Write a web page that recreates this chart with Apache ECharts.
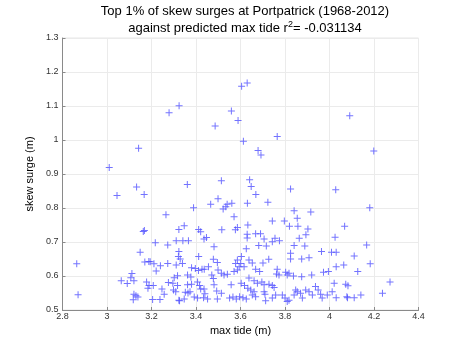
<!DOCTYPE html>
<html>
<head>
<meta charset="utf-8">
<script src="https://cdn.jsdelivr.net/npm/echarts@6/dist/echarts.min.js"></script>
<style>html,body{margin:0;padding:0;background:#fff}#c{width:465px;height:350px}</style>
</head>
<body>
<div id="c"></div>
<script>
const titleLine1 = 'Top 1% of skew surges at Portpatrick (1968-2012)';
const titleLine2 = 'against predicted max tide r';
const r2Text = '-0.031134';
const xTicks = [2.8, 3, 3.2, 3.4, 3.6, 3.8, 4, 4.2, 4.4];
const yTicks = [0.5, 0.6, 0.7, 0.8, 0.9, 1.0, 1.1, 1.2, 1.3];

// max tide (m)
const maxTide = [
 3.605,3.630,3.279,3.324,3.559,3.589,3.486,4.091,3.613,3.765,3.679,3.692,4.199,3.142,3.010,3.361,3.514,3.641,3.648,3.669,3.825,4.028,3.133,3.045,3.167,
 3.265,3.163,3.168,3.217,3.273,3.149,2.864,3.170,3.188,3.194,3.211,3.240,3.221,3.273,3.112,3.107,3.064,3.091,3.121,3.178,3.184,3.189,3.208,3.247,3.276,3.257,2.870,3.121,3.130,3.139,3.118,3.205,3.238,
 3.499,3.466,3.389,3.522,3.534,3.540,3.561,3.631,3.571,3.323,3.347,3.412,3.421,3.516,3.577,3.586,3.630,3.630,3.311,3.341,3.366,3.436,3.447,3.481,3.626,3.323,3.321,3.329,3.412,3.311,3.339,3.478,3.496,
 3.586,3.604,3.578,3.601,3.616,3.594,3.380,3.397,3.411,3.427,3.437,3.456,3.499,3.514,3.526,3.541,3.571,3.586,3.317,3.302,3.362,3.377,3.471,3.478,3.296,3.317,3.299,3.309,
 3.362,3.380,3.407,3.416,3.421,3.436,3.440,3.481,3.493,3.514,3.558,3.603,3.618,3.633,3.352,3.364,3.373,3.323,3.347,3.326,3.392,3.407,3.434,3.452,3.496,3.551,3.566,3.581,3.596,3.611,3.626,3.633,3.682,
 3.723,3.841,3.916,3.855,3.743,3.797,3.820,3.858,3.903,3.668,3.690,3.706,3.743,3.716,3.755,3.775,3.864,3.894,3.841,3.889,4.025,3.964,4.009,4.030,3.825,3.825,3.875,3.908,3.638,3.653,3.701,3.727,3.668,3.686,
 3.765,3.762,3.773,3.803,3.818,3.810,3.838,3.875,3.920,3.973,3.995,
 3.638,3.661,3.676,3.696,3.706,3.728,3.743,3.751,3.646,3.661,3.653,3.668,3.706,3.710,3.713,3.743,3.758,3.788,3.800,3.810,3.818,3.841,3.848,3.855,3.870,3.878,3.893,3.908,3.923,3.937,3.949,3.960,3.967,3.990,4.012,
 4.181,4.068,4.167,4.111,4.030,4.064,4.183,4.127,4.272,4.021,4.073,4.083,4.238,4.030,4.078,4.081,4.111,4.141
];
// skew surge (m)
const skewSurge = [
 1.158,1.168,1.080,1.101,1.085,1.057,1.041,1.071,0.996,1.010,0.969,0.956,0.968,0.976,0.919,0.869,0.880,0.883,0.863,0.840,0.856,0.854,0.862,0.837,0.840,
 0.780,0.731,0.734,0.698,0.691,0.670,0.636,0.641,0.643,0.642,0.636,0.630,0.615,0.637,0.607,0.595,0.586,0.578,0.586,0.582,0.564,0.572,0.572,0.562,0.581,0.546,0.545,0.546,0.542,0.538,0.530,0.531,0.531,
 0.827,0.811,0.801,0.797,0.804,0.811,0.814,0.814,0.774,0.737,0.748,0.737,0.730,0.736,0.736,0.743,0.723,0.712,0.704,0.704,0.704,0.709,0.713,0.686,0.680,0.672,0.657,0.650,0.657,0.632,0.637,0.649,0.640,
 0.647,0.657,0.637,0.637,0.627,0.627,0.624,0.622,0.616,0.620,0.620,0.627,0.618,0.608,0.603,0.605,0.613,0.618,0.601,0.595,0.603,0.597,0.603,0.593,0.579,0.572,0.559,0.554,
 0.574,0.576,0.582,0.572,0.562,0.562,0.548,0.574,0.556,0.549,0.574,0.579,0.572,0.564,0.552,0.550,0.554,0.529,0.532,0.527,0.538,0.535,0.536,0.532,0.532,0.535,0.538,0.532,0.539,0.536,0.532,0.750,0.690,
 0.817,0.792,0.788,0.770,0.762,0.762,0.746,0.746,0.738,0.724,0.724,0.709,0.701,0.688,0.711,0.704,0.711,0.721,0.690,0.688,0.714,0.672,0.670,0.670,0.667,0.650,0.650,0.654,0.647,0.638,0.638,0.649,0.620,0.613,
 0.620,0.606,0.603,0.611,0.608,0.603,0.600,0.598,0.603,0.611,0.613,
 0.594,0.586,0.579,0.582,0.574,0.576,0.572,0.566,0.559,0.554,0.544,0.539,0.554,0.546,0.527,0.535,0.544,0.544,0.535,0.525,0.529,0.544,0.559,0.554,0.549,0.535,0.559,0.554,0.544,0.569,0.559,0.546,0.535,0.544,0.554,
 0.801,0.746,0.691,0.659,0.627,0.632,0.636,0.613,0.582,0.579,0.576,0.571,0.549,0.536,0.539,0.536,0.536,0.544
];

const points = maxTide.map((x, i) => [x, skewSurge[i]]);
const font = '"Liberation Sans", Arial, sans-serif';
const chart = echarts.init(document.getElementById('c'), null, {renderer: 'canvas'});
chart.setOption({
  animation: false,
  backgroundColor: '#fff',
  title: [{
    text: titleLine1 + '\n{n|' + titleLine2 + '}{s|2}{n|= ' + r2Text + '}',
    left: 240, top: -2, textAlign: 'center',
    textStyle: {
      fontFamily: font, fontSize: 13, fontWeight: 'normal', color: '#000', lineHeight: 17,
      rich: {
        n: {fontFamily: font, fontSize: 13, color: '#000', lineHeight: 17},
        s: {fontFamily: font, fontSize: 9, color: '#000', verticalAlign: 'top', padding: [0, 0, 7, 0], lineHeight: 17}
      }
    }
  }],
  grid: {left: 62.5, right: 46.5, top: 38, bottom: 40, show: true, borderColor: '#e6e6e6', borderWidth: 1},
  xAxis: {
    type: 'value', min: 2.8, max: 4.4, interval: 0.2,
    name: 'max tide (m)', nameLocation: 'middle', nameGap: 15,
    nameTextStyle: {fontFamily: font, fontSize: 11, color: '#000'},
    axisLine: {show: true, onZero: false, lineStyle: {color: '#8a8a8a', width: 1}},
    axisTick: {show: true, inside: true, length: 3, lineStyle: {color: '#8a8a8a'}},
    axisLabel: {fontFamily: font, fontSize: 9, color: '#333', margin: 2,
      formatter: v => { const t = xTicks.find(k => Math.abs(k - v) < 1e-6); return t === undefined ? '' : String(t); }},
    splitLine: {show: true, lineStyle: {color: '#ebebeb', width: 1}}
  },
  yAxis: {
    type: 'value', min: 0.5, max: 1.3, interval: 0.1,
    name: 'skew surge (m)', nameLocation: 'middle', nameGap: 25, nameRotate: 90,
    nameTextStyle: {fontFamily: font, fontSize: 11, color: '#000'},
    axisLine: {show: true, onZero: false, lineStyle: {color: '#8a8a8a', width: 1}},
    axisTick: {show: true, inside: true, length: 3, lineStyle: {color: '#8a8a8a'}},
    axisLabel: {fontFamily: font, fontSize: 9, color: '#333', margin: 4,
      formatter: v => { const t = yTicks.find(k => Math.abs(k - v) < 1e-6); return t === undefined ? '' : String(Math.round(t * 10) / 10); }},
    splitLine: {show: true, lineStyle: {color: '#ebebeb', width: 1}}
  },
  series: [{
    type: 'scatter',
    data: points,
    symbol: 'path://M3,0H4V3H7V4H4V7H3V4H0V3H3Z',
    symbolSize: 7,
    itemStyle: {color: '#5050ff'},
    silent: true
  }]
});
</script>
</body>
</html>
